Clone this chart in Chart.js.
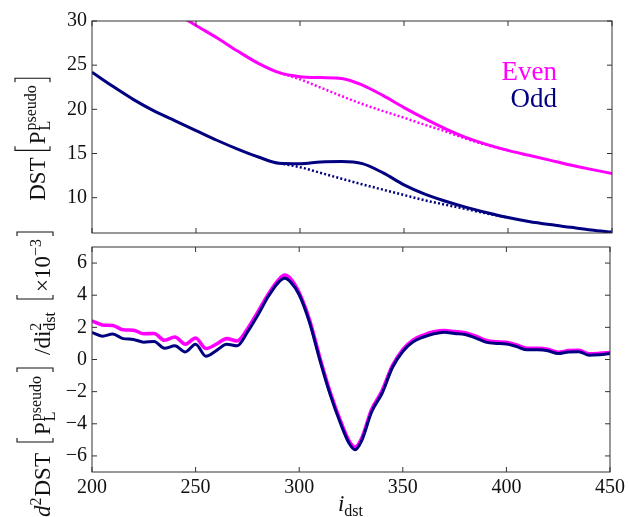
<!DOCTYPE html>
<html>
<head>
<meta charset="utf-8">
<script src="https://cdn.jsdelivr.net/npm/chart.js@4/dist/chart.umd.min.js"></script>
<style>
  html, body { margin: 0; padding: 0; background: #fff; }
  #wrap { position: relative; width: 629px; height: 517px; overflow: hidden; }
  canvas { position: absolute; left: 0; }
  #topChart { top: 0; }
  #botChart { top: 200px; }
</style>
</head>
<body>
<div id="wrap">
  <canvas id="topChart" width="629" height="250"></canvas>
  <canvas id="botChart" width="629" height="317"></canvas>
</div>
<script>
// ---- data ----
const xTicks = [200, 250, 300, 350, 400, 450];
const topYTicks = [10, 15, 20, 25, 30];
const botYTicks = [-6, -4, -2, 0, 2, 4, 6];

// top panel: DST
const topX = [200, 210, 220, 230, 240, 250, 260, 270, 280, 290, 300, 310, 320,
              330, 340, 350, 360, 370, 380, 390, 400, 410, 420, 430, 440, 450];
const oddTop = [24.2, 22.6, 21.1, 19.8, 18.7, 17.6, 16.5, 15.5, 14.6, 13.9, 13.85, 14.05, 14.1,
                13.85, 12.8, 11.45, 10.4, 9.6, 8.9, 8.3, 7.75, 7.3, 6.95, 6.65, 6.35, 6.1];
const evenTopX = [240, 250, 260, 270, 280, 290, 300, 310, 320, 330, 340,
                  350, 360, 370, 380, 390, 400, 410, 420, 430, 440, 450];
const evenTop = [30.95, 29.5, 28.1, 26.6, 25.2, 24.15, 23.7, 23.6, 23.5, 22.75, 21.55,
                 20.2, 18.95, 17.8, 16.8, 16.0, 15.35, 14.8, 14.25, 13.7, 13.2, 12.74];
// dotted background curves
const dipX = [290, 300, 310, 320, 330, 340, 350, 360, 370, 380, 390, 400];
const oddDip = [13.9, 13.45, 12.8, 12.15, 11.5, 10.9, 10.3, 9.7, 9.2, 8.7, 8.2, 7.75];
const evenDip = [24.15, 23.4, 22.45, 21.5, 20.6, 19.8, 19.05, 18.25, 17.5, 16.65, 15.95, 15.35];

// bottom panel: second derivative (x 10^-3)
const botX = [200, 205, 210, 215, 220, 225, 230, 235, 240, 245, 250, 255, 260, 265, 270,
              275, 280, 285, 290, 293, 296, 300, 305, 310, 315, 320, 324, 327, 330, 335,
              340, 345, 350, 355, 360, 365, 370, 375, 380, 385, 390, 395, 400, 405, 410,
              415, 420, 425, 430, 435, 440, 445, 450];
const oddBot = [1.69, 1.45, 1.58, 1.3, 1.25, 1.08, 1.12, 0.7, 0.85, 0.47, 0.95, 0.2, 0.55, 0.95, 0.85,
                1.7, 2.75, 3.9, 4.8, 5.05, 4.8, 4.03, 2.3, -0.05, -2.2, -4.0, -5.2, -5.62, -5.1, -3.25,
                -2.1, -0.5, 0.5, 1.1, 1.4, 1.6, 1.7, 1.62, 1.55, 1.35, 1.08, 1.0, 0.97, 0.8, 0.6,
                0.6, 0.55, 0.37, 0.47, 0.48, 0.27, 0.3, 0.37];
const evenBot = [2.4, 2.15, 2.12, 1.85, 1.82, 1.6, 1.62, 1.2, 1.4, 0.95, 1.34, 0.68, 0.95, 1.3, 1.15,
                 1.9, 2.95, 4.05, 4.95, 5.25, 5.0, 4.15, 2.45, 0.1, -2.05, -3.85, -5.05, -5.45, -4.95, -3.1,
                 -1.95, -0.38, 0.62, 1.22, 1.52, 1.72, 1.8, 1.74, 1.67, 1.47, 1.2, 1.1, 1.07, 0.9, 0.7,
                 0.7, 0.64, 0.45, 0.55, 0.57, 0.35, 0.38, 0.43];

const MAGENTA = '#ff00ff';
const NAVY = '#000080';
const FONT = "'Liberation Serif'";
const MAIN = 23;
const SCRIPT = 16;

function pairs(xs, ys) {
    return xs.map((x, i) => ({ x: x, y: ys[i] }));
}

// ---- small math-text layout for axis titles ----
function setFont(ctx, size, it) {
    ctx.font = (it ? 'italic ' : '') + size + 'px ' + FONT;
}
function runWidth(ctx, r) {
    if (r.gap !== undefined) return r.gap;
    if (r.br) return 7;
    if (r.t) { setFont(ctx, MAIN, r.it); return ctx.measureText(r.t).width; }
    setFont(ctx, SCRIPT, false);
    let w = 0;
    if (r.sup) w = Math.max(w, ctx.measureText(r.sup).width);
    if (r.sub) w = Math.max(w, ctx.measureText(r.sub).width);
    return w + 1;
}
function drawRun(ctx, r, x, bTop, bBot) {
    if (r.gap !== undefined) return;
    if (r.br) {
        ctx.lineWidth = 1.1;
        ctx.beginPath();
        if (r.br === '[') {
            ctx.moveTo(x + 5, bTop); ctx.lineTo(x + 1, bTop); ctx.lineTo(x + 1, bBot); ctx.lineTo(x + 5, bBot);
        } else {
            ctx.moveTo(x + 2, bTop); ctx.lineTo(x + 6, bTop); ctx.lineTo(x + 6, bBot); ctx.lineTo(x + 2, bBot);
        }
        ctx.stroke();
        return;
    }
    if (r.t) { setFont(ctx, MAIN, r.it); ctx.fillText(r.t, x, 0); return; }
    setFont(ctx, SCRIPT, false);
    if (r.sup) ctx.fillText(r.sup, x, -9);
    if (r.sub) ctx.fillText(r.sub, x, 5);
}
function drawMath(ctx, runs, cx, cy, rotated, bTop, bBot) {
    const ws = runs.map(r => runWidth(ctx, r));
    const total = ws.reduce((a, b) => a + b, 0);
    ctx.save();
    ctx.fillStyle = '#111';
    ctx.strokeStyle = '#111';
    ctx.textAlign = 'left';
    ctx.textBaseline = 'alphabetic';
    if (rotated) {
        ctx.translate(cx, cy + total / 2);
        ctx.rotate(-Math.PI / 2);
    } else {
        ctx.translate(cx - total / 2, cy);
    }
    let x = 0;
    runs.forEach((r, i) => { drawRun(ctx, r, x, bTop, bBot); x += ws[i]; });
    ctx.restore();
}

// frame with inward ticks on all four sides, like the original
function framePlugin(yTicks) {
    return {
        id: 'frame',
        afterDatasetsDraw(chart) {
            const ctx = chart.ctx;
            const a = chart.chartArea;
            const xs = chart.scales.x;
            const ys = chart.scales.y;
            ctx.save();
            ctx.strokeStyle = '#333';
            ctx.lineWidth = 1;
            ctx.strokeRect(a.left, a.top, a.right - a.left, a.bottom - a.top);
            ctx.beginPath();
            xTicks.forEach(v => {
                const px = xs.getPixelForValue(v);
                ctx.moveTo(px, a.top); ctx.lineTo(px, a.top + 5);
                ctx.moveTo(px, a.bottom); ctx.lineTo(px, a.bottom - 5);
            });
            yTicks.forEach(v => {
                const py = ys.getPixelForValue(v);
                ctx.moveTo(a.left, py); ctx.lineTo(a.left + 5, py);
                ctx.moveTo(a.right, py); ctx.lineTo(a.right - 5, py);
            });
            ctx.stroke();
            ctx.restore();
        }
    };
}

const topText = {
    id: 'topText',
    afterDraw(chart) {
        const ctx = chart.ctx;
        drawMath(ctx, [
            { t: 'DST' }, { gap: 6 }, { br: '[' }, { t: 'P' }, { gap: 1 },
            { sup: 'pseudo', sub: 'L' }, { br: ']' }
        ], 45, 139, true, -30, 5);
        ctx.save();
        ctx.font = '27px ' + FONT;
        ctx.textAlign = 'right';
        ctx.fillStyle = MAGENTA;
        ctx.fillText('Even', 557, 80);
        ctx.fillStyle = NAVY;
        ctx.fillText('Odd', 557, 107);
        ctx.restore();
    }
};

const botText = {
    id: 'botText',
    afterDraw(chart) {
        const ctx = chart.ctx;
        // canvas starts at page y 200
        drawMath(ctx, [
            { t: 'd', it: true }, { sup: '2' }, { t: 'DST' }, { gap: 10 }, { br: '[' }, { gap: 1 }, { t: 'P' }, { gap: 1 },
            { sup: 'pseudo', sub: 'L' }, { gap: 1 }, { br: ']' }, { gap: 12 }, { t: '/di' }, { sup: '2', sub: 'dst' },
            { gap: 11 }, { br: '[' }, { gap: 1 }, { t: '\u00d710' }, { sup: '\u22123' }, { br: ']' }
        ], 50, 374 - 200, true, -33, 3);
        drawMath(ctx, [{ t: 'i', it: true }, { sub: 'dst' }], 351, 311, false, 0, 0);
    }
};

function tickLabel(v) {
    return v < 0 ? '\u2212' + Math.abs(v) : String(v);
}

const lineDefaults = {
    elements: { point: { radius: 0 }, line: { cubicInterpolationMode: 'monotone', fill: false } },
    plugins: { legend: { display: false }, tooltip: { enabled: false } }
};

function buildCharts() {
    new Chart(document.getElementById('topChart').getContext('2d'), {
        type: 'line',
        data: {
            datasets: [
                { label: 'Odd', data: pairs(topX, oddTop), borderColor: NAVY, borderWidth: 3, order: 0 },
                { label: 'Even', data: pairs(evenTopX, evenTop), borderColor: MAGENTA, borderWidth: 3, order: 1 },
                { label: 'Odd (dotted)', data: pairs(dipX, oddDip), borderColor: NAVY, borderWidth: 2.5, borderDash: [2, 2.2], order: 2 },
                { label: 'Even (dotted)', data: pairs(dipX, evenDip), borderColor: MAGENTA, borderWidth: 2.5, borderDash: [2, 2.2], order: 3 }
            ]
        },
        options: {
            responsive: false,
            animation: false,
            devicePixelRatio: 1,
            layout: { padding: { left: 0, right: 17, top: 21, bottom: 3 } },
            elements: lineDefaults.elements,
            plugins: lineDefaults.plugins,
            scales: {
                x: { type: 'linear', min: 200, max: 450, display: false },
                y: {
                    type: 'linear', min: 6, max: 30,
                    afterFit: s => { s.width = 92; },
                    afterBuildTicks: s => { s.ticks = topYTicks.map(v => ({ value: v })); },
                    grid: { display: false, drawTicks: false },
                    border: { display: false },
                    ticks: { padding: 5, color: '#111', font: { family: FONT, size: 20 }, callback: tickLabel }
                }
            }
        },
        plugins: [framePlugin(topYTicks), topText]
    });

    new Chart(document.getElementById('botChart').getContext('2d'), {
        type: 'line',
        data: {
            datasets: [
                { label: 'Odd', data: pairs(botX, oddBot), borderColor: NAVY, borderWidth: 3, order: 0 },
                { label: 'Even', data: pairs(botX, evenBot), borderColor: MAGENTA, borderWidth: 3.6, order: 1 }
            ]
        },
        options: {
            responsive: false,
            animation: false,
            devicePixelRatio: 1,
            layout: { padding: { left: 0, right: 17, top: 47, bottom: 0 } },
            elements: lineDefaults.elements,
            plugins: lineDefaults.plugins,
            scales: {
                x: {
                    type: 'linear', min: 200, max: 450,
                    afterFit: s => { s.height = 45; },
                    afterBuildTicks: s => { s.ticks = xTicks.map(v => ({ value: v })); },
                    grid: { display: false, drawTicks: false },
                    border: { display: false },
                    ticks: { padding: 4, color: '#111', maxRotation: 0, font: { family: FONT, size: 20 }, callback: tickLabel }
                },
                y: {
                    type: 'linear', min: -7, max: 7,
                    afterFit: s => { s.width = 92; },
                    afterBuildTicks: s => { s.ticks = botYTicks.map(v => ({ value: v })); },
                    grid: { display: false, drawTicks: false },
                    border: { display: false },
                    ticks: { padding: 5, color: '#111', font: { family: FONT, size: 20 }, callback: tickLabel }
                }
            }
        },
        plugins: [framePlugin(botYTicks), botText]
    });
}

Promise.all([
    document.fonts.load("20px 'Liberation Serif'"),
    document.fonts.load("italic 23px 'Liberation Serif'")
]).then(buildCharts, buildCharts);
</script>
</body>
</html>
